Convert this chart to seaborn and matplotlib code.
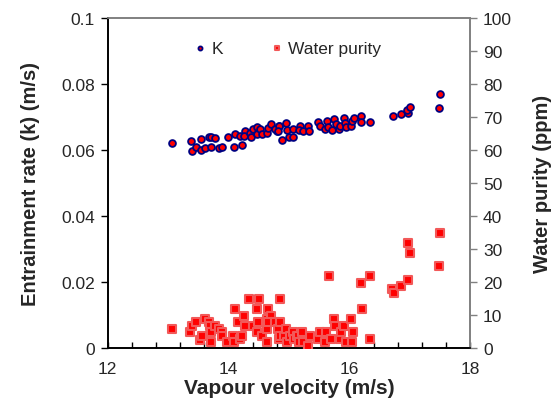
import matplotlib
matplotlib.use("Agg")
import matplotlib.pyplot as plt
import seaborn as sns
import numpy as np
import pandas as pd
from matplotlib.ticker import MultipleLocator, FixedLocator

# ---- data ----
k_velocity = [13.06, 13.38, 13.40, 13.46, 13.54, 13.54, 13.61, 13.67, 13.71, 13.71,
              13.78, 13.85, 13.90, 13.99, 14.09, 14.11, 14.19, 14.23, 14.27, 14.26,
              14.36, 14.37, 14.41, 14.47, 14.47, 14.52, 14.55, 14.63, 14.66, 14.71,
              14.80, 14.83, 14.77, 14.84, 14.82, 14.95, 14.96, 14.88, 15.00, 15.07,
              15.07, 15.18, 15.17, 15.24, 15.32, 15.33, 15.48, 15.51, 15.60, 15.63,
              15.65, 15.71, 15.75, 15.78, 15.82, 15.85, 15.91, 15.93, 15.95, 16.02,
              16.04, 16.07, 16.19, 16.19, 16.34, 16.72, 16.86, 16.96, 16.95, 17.00,
              17.50, 17.48]
k_rate = [0.0621, 0.0628, 0.0598, 0.0610, 0.0632, 0.0600, 0.0605, 0.0638, 0.0638, 0.0608,
          0.0636, 0.0606, 0.0608, 0.0640, 0.0610, 0.0650, 0.0641, 0.0616, 0.0659, 0.0643,
          0.0653, 0.0640, 0.0664, 0.0669, 0.0648, 0.0664, 0.0650, 0.0653, 0.0667, 0.0679,
          0.0659, 0.0674, 0.0664, 0.0674, 0.0659, 0.0681, 0.0661, 0.0630, 0.0640, 0.0638,
          0.0664, 0.0674, 0.0661, 0.0659, 0.0672, 0.0659, 0.0684, 0.0674, 0.0664, 0.0689,
          0.0669, 0.0661, 0.0694, 0.0679, 0.0664, 0.0674, 0.0697, 0.0681, 0.0671, 0.0674,
          0.0687, 0.0697, 0.0704, 0.0684, 0.0686, 0.0702, 0.0709, 0.0711, 0.0722, 0.0731,
          0.0770, 0.0727]

wp_velocity = [13.06, 13.37, 13.39, 13.46, 13.53, 13.56, 13.61, 13.68, 13.69, 13.71,
               13.71, 13.78, 13.85, 13.89, 13.90, 13.98, 14.08, 14.09, 14.11, 14.15,
               14.19, 14.23, 14.26, 14.27, 14.34, 14.41, 14.47, 14.48, 14.47, 14.51,
               14.55, 14.63, 14.63, 14.66, 14.64, 14.71, 14.66, 14.77, 14.82, 14.85,
               14.84, 14.85, 14.85, 14.91, 14.95, 14.96, 15.02, 15.07, 15.08, 15.13,
               15.15, 15.17, 15.21, 15.24, 15.32, 15.34, 15.48, 15.51, 15.60, 15.62,
               15.66, 15.69, 15.74, 15.76, 15.84, 15.86, 15.91, 15.95, 16.02, 16.04,
               16.06, 16.19, 16.20, 16.34, 16.34, 16.71, 16.74, 16.86, 16.96, 16.96,
               17.00, 17.48, 17.50]
wp_ppm = [5.8, 4.7, 6.8, 7.8, 2.5, 3.7, 8.8, 7.8, 6.8, 4.7,
          1.7, 6.8, 5.8, 4.7, 3.7, 1.7, 3.7, 1.7, 11.8, 7.8,
          2.7, 3.7, 9.8, 6.8, 14.8, 6.8, 11.8, 7.8, 4.7, 14.8,
          3.7, 1.7, 5.8, 11.8, 8.8, 9.8, 7.8, 7.8, 5.8, 7.8,
          2.7, 14.8, 3.7, 3.7, 5.8, 1.7, 3.7, 4.7, 2.7, 3.7,
          3.7, 1.7, 4.7, 1.7, 0.7, 3.7, 2.7, 4.7, 1.7, 4.7,
          21.7, 2.7, 8.8, 6.8, 2.7, 4.7, 6.8, 1.7, 8.8, 1.7,
          4.7, 19.7, 11.8, 21.7, 2.7, 17.9, 16.7, 18.7, 20.7, 31.8,
          28.8, 24.8, 34.8]

x_ticks = [12, 14, 16, 18]
left_ticks = [0, 0.02, 0.04, 0.06, 0.08, 0.1]
left_labels = ["0", "0.02", "0.04", "0.06", "0.08", "0.1"]
right_ticks = [0, 10, 20, 30, 40, 50, 60, 70, 80, 90, 100]

# ---- style ----
sns.set_style("white")
plt.rcParams['font.family'] = ['Liberation Sans', 'DejaVu Sans']

fig = plt.figure(figsize=(5.6, 4.14), dpi=100)
ax = fig.add_axes([0.192, 0.157, 0.648, 0.797])
ax2 = ax.twinx()

dk = pd.DataFrame({"v": k_velocity, "k": k_rate})
dw = pd.DataFrame({"v": wp_velocity, "p": wp_ppm})

sns.scatterplot(data=dw, x="v", y="p", ax=ax2, marker="s", s=28,
                color="#ff0000", edgecolor=(0.95, 0.35, 0.35), linewidth=1.5,
                label="Water purity", legend=False, zorder=3)
sns.scatterplot(data=dk, x="v", y="k", ax=ax, marker="o", s=24,
                color="#ff0000", edgecolor="#000080", linewidth=1.3,
                label="K", legend=False, zorder=3)

ax.set_xlim(12, 18)
ax.set_ylim(0, 0.1)
ax2.set_ylim(0, 100)

ax.xaxis.set_major_locator(FixedLocator(x_ticks))
ax.set_xticklabels([str(t) for t in x_ticks])
ax.xaxis.set_minor_locator(MultipleLocator(0.4))
ax.set_yticks(left_ticks)
ax.set_yticklabels(left_labels)
ax2.set_yticks(right_ticks)
ax2.set_yticklabels([str(t) for t in right_ticks])

ax.tick_params(axis='x', which='both', direction='in', length=4, width=1,
               color='black', labelsize=12.5, pad=9, bottom=True)
ax.tick_params(axis='y', which='major', direction='out', length=5, width=1,
               color='black', labelsize=12.5, left=True, pad=4)
ax2.tick_params(axis='y', which='major', direction='out', length=5, width=1,
                color='#808080', labelsize=12.5, right=True, pad=4)

for a in (ax, ax2):
    a.spines['top'].set_color('#808080')
    a.spines['right'].set_color('#808080')
    a.spines['left'].set_color('black')
    a.spines['bottom'].set_color('black')
    for s in a.spines.values():
        s.set_linewidth(1.2)
    a.grid(False)

ax.set_xlabel("Vapour velocity (m/s)", fontsize=15, fontweight='bold', labelpad=2)
ax.set_ylabel("Entrainment rate (k) (m/s)", fontsize=14.5, fontweight='bold', labelpad=15)
ax2.set_ylabel("Water purity (ppm)", fontsize=14.5, fontweight='bold', labelpad=15)

h1, l1 = ax.get_legend_handles_labels()
h2, l2 = ax2.get_legend_handles_labels()
leg = ax2.legend(h1 + h2, l1 + l2, loc='center', bbox_to_anchor=(0.492, 0.909),
                 ncol=2, frameon=False, fontsize=12.5, markerscale=0.6,
                 handlelength=1.0, handletextpad=0.15, columnspacing=2.6,
                 borderpad=0.0)

fig.savefig("out.png", dpi=100)
